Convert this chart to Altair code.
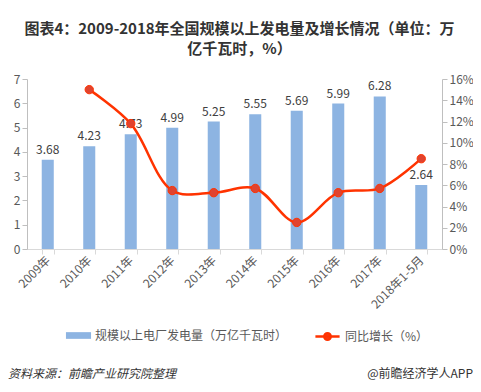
import altair as alt
import pandas as pd

years = ["2009年", "2010年", "2011年", "2012年", "2013年", "2014年", "2015年", "2016年", "2017年", "2018年1-5月"]
output = [3.68, 4.23, 4.73, 4.99, 5.25, 5.55, 5.69, 5.99, 6.28, 2.64]
growth = [None, 15.0, 11.8, 5.5, 5.3, 5.7, 2.5, 5.3, 5.7, 8.5]
left_ticks = [0, 1, 2, 3, 4, 5, 6, 7]
right_ticks = [0, 2, 4, 6, 8, 10, 12, 14, 16]

bar_name = "规模以上电厂发电量（万亿千瓦时）"
line_name = "同比增长（%）"
title_lines = ["图表4：2009-2018年全国规模以上发电量及增长情况（单位：万", "亿千瓦时，%）"]
source_text = "资料来源：前瞻产业研究院整理"
brand_text = "@前瞻经济学人APP"

FONT = "Noto Sans CJK SC"

df = pd.DataFrame({"year": years, "output": output, "growth": growth,
                   "s1": bar_name, "s2": line_name})
df_line = df.dropna(subset=["growth"])

x_axis = alt.Axis(labelAngle=-45, labelAlign="right", labelBaseline="middle",
                  labelFontSize=12, labelColor="#595959", labelFont=FONT,
                  domainColor="#D9D9D9", tickColor="#D9D9D9", tickBand="extent",
                  tickSize=5, labelPadding=4, labelOverlap=False)
x_scale = alt.Scale(paddingInner=0.71, paddingOuter=0.355)
xenc = alt.X("year:N", sort=years, title=None, scale=x_scale, axis=x_axis)

yl_scale = alt.Scale(domain=[0, 7])
yr_scale = alt.Scale(domain=[0, 16])
yl_axis = alt.Axis(orient="left", values=left_ticks, grid=False, labelFontSize=12,
                   labelColor="#595959", domainColor="#BFBFBF", tickColor="#BFBFBF",
                   tickSize=5, labelFont=FONT, labelOverlap=False)
yr_axis = alt.Axis(orient="right", values=right_ticks, grid=False,
                   labelExpr="datum.value + '%'", labelFontSize=12, labelColor="#595959",
                   domainColor="#BFBFBF", tickColor="#BFBFBF", tickSize=5, labelFont=FONT,
                   labelOverlap=False)

bars = alt.Chart(df).mark_bar(color="#8DB4E2").encode(
    x=xenc,
    y=alt.Y("output:Q", title=None, scale=yl_scale, axis=yl_axis),
    fill=alt.Fill("s1:N", scale=alt.Scale(range=["#8DB4E2"]),
                  legend=alt.Legend(title=None, orient="none", legendX=43, legendY=248,
                                    symbolType="M-1.5,-0.4H1.5V0.4H-1.5Z", symbolSize=280,
                                    symbolStrokeWidth=0, labelFontSize=12, labelColor="#595959",
                                    labelFont=FONT, labelOffset=8, labelLimit=0)),
)

labels = alt.Chart(df).mark_text(dy=-10, fontSize=12, color="#404040", font=FONT).encode(
    x=xenc,
    y=alt.Y("output:Q", title=None, scale=yl_scale, axis=yl_axis),
    text=alt.Text("output:Q", format=".2f"),
)

line = alt.Chart(df_line).mark_line(interpolate="catmull-rom", strokeWidth=2.5).encode(
    x=xenc,
    y=alt.Y("growth:Q", title=None, scale=yr_scale, axis=yr_axis),
    stroke=alt.Stroke("s2:N", scale=alt.Scale(range=["#FF3300"]),
                      legend=alt.Legend(title=None, orient="none", legendX=291, legendY=248,
                                        symbolType="M-1.5,0H1.5M0.4,0A0.4,0.4 0 1,1 -0.4,0A0.4,0.4 0 1,1 0.4,0",
                                        symbolSize=260, symbolStrokeWidth=2.5,
                                        symbolFillColor="#E8432E", labelFontSize=12,
                                        labelColor="#595959", labelFont=FONT, labelOffset=8,
                                        labelLimit=0)),
)

points = alt.Chart(df_line).mark_circle(size=70, color="#E0432F", opacity=1,
                                        stroke="#FF3300", strokeWidth=1).encode(
    x=xenc,
    y=alt.Y("growth:Q", title=None, scale=yr_scale, axis=yr_axis),
)

foot = pd.DataFrame({"a": [source_text], "b": [brand_text]})
src = alt.Chart(foot).mark_text(align="left", baseline="middle", fontSize=12, fontStyle="italic",
                                color="#333333", font=FONT).encode(
    x=alt.value(-19), y=alt.value(295), text="a:N")
brand = alt.Chart(foot).mark_text(align="right", baseline="middle", fontSize=12,
                                  color="#333333", font=FONT).encode(
    x=alt.value(446), y=alt.value(295), text="b:N")

left = alt.layer(bars, labels)
right = alt.layer(line, points)

chart = alt.layer(left, right, src, brand).resolve_scale(
    y="independent", fill="independent", stroke="independent"
).properties(
    width=415, height=170,
    autosize=alt.AutoSizeParams(type="none"),
    padding={"left": 19, "top": 71, "right": 31, "bottom": 135},
    title=alt.TitleParams(text=title_lines, anchor="middle", fontSize=15, fontWeight="bold",
                          color="#333333", font=FONT, offset=22, lineHeight=20, dx=5, dy=6),
).configure_view(stroke=None).configure_axis(labelFont=FONT)

chart.save("out.html", embed_options={"renderer": "svg", "actions": False})
